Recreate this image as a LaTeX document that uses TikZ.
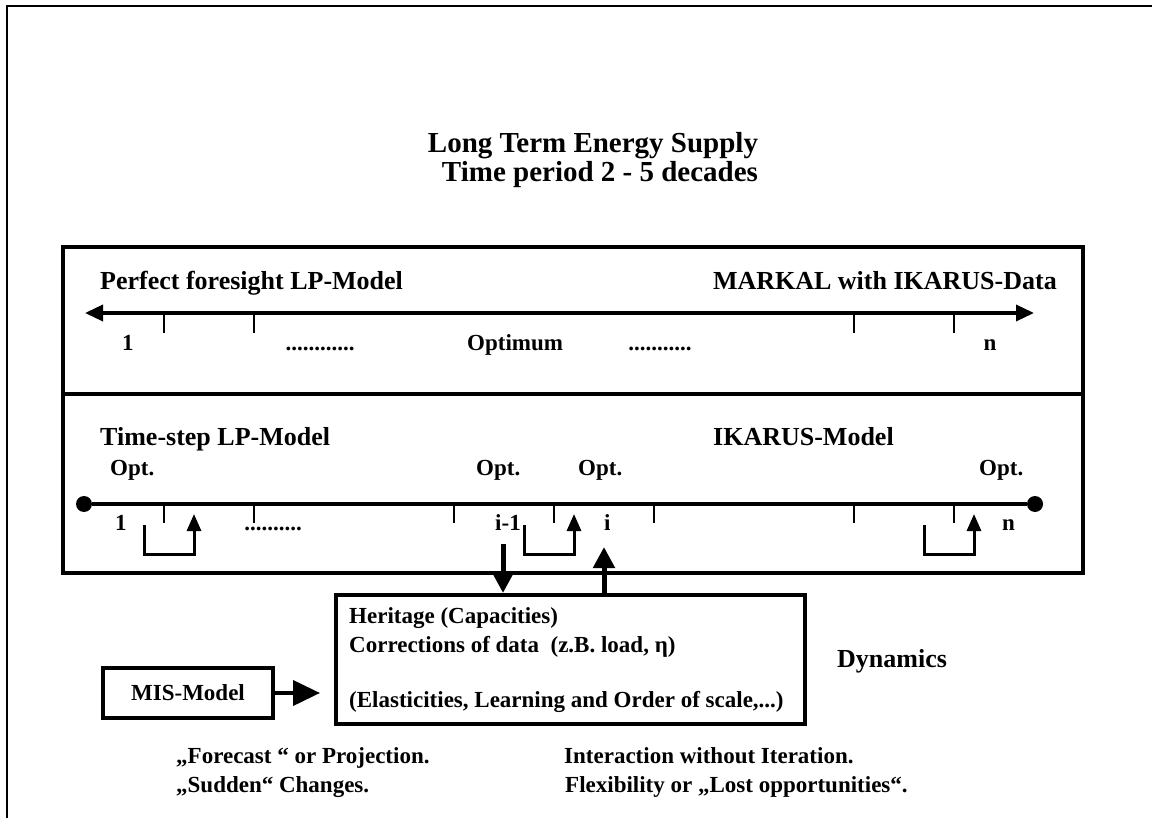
\documentclass[tikz,border=0pt]{standalone}
\usepackage{fontspec}
\setmainfont{Liberation Serif}
\usetikzlibrary{arrows.meta,positioning}

\begin{document}
\begin{tikzpicture}[x=1pt,y=-1pt,>={Triangle[length=18pt,width=16pt]},
  every node/.append style={inner sep=0pt},
  txt/.style={anchor=base west,font=\fontsize{23}{28}\selectfont\bfseries},
  hdr/.style={anchor=base west,font=\fontsize{26}{30}\selectfont\bfseries},
  ttl/.style={anchor=base,font=\fontsize{29}{30}\selectfont\bfseries},
  boxline/.style={line width=4pt},
  tickline/.style={line width=1.2pt},
  backarr/.style={->,line width=3pt,>={Triangle[length=17pt,width=14pt]}},
  bigarr/.style={->,line width=5pt,>={Triangle[length=21pt,width=21pt]}},
  dot/.style={circle,fill,minimum size=16pt}]
    \useasboundingbox (0,0) rectangle (1152,818);
    % page frame
    \draw[line width=2.5pt] (7,818) -- (7,6) -- (1152,6);
    \node [ttl] (title1) at (593,153) {Long Term Energy Supply};
    \node [ttl] (title2) at (600,182) {Time period 2 - 5 decades};
    % the two models
    \draw[boxline] (63,247) rectangle (1083,573);
    \draw[boxline] (63,394) -- (1083,394);
    % perfect foresight
    \node [hdr] (pf) at (100,290) {Perfect foresight LP-Model};
    \node [hdr,anchor=base east] (markal) at (1057,290) {MARKAL with IKARUS-Data};
    \coordinate (a1) at (85,313);
    \coordinate (a2) at (1034,313);
    \draw[<->,line width=3.5pt] (a1) -- (a2);
    \foreach \x in {164,254,854,954}
      \draw[tickline] (\x,313) -- (\x,333);
    \node [txt] (p1) at (122,351) {1};
    \node [txt,anchor=base] (pdots1) at (320,351) {............};
    \node [txt] (opt) at (467,351) {Optimum};
    \node [txt,anchor=base] (pdots2) at (660,351) {...........};
    \node [txt,anchor=base] (pn) at (990,351) {n};
    % time-step
    \node [hdr] (ts) at (100,445) {Time-step LP-Model};
    \node [hdr] (ik) at (713,445) {IKARUS-Model};
    \node [txt] (o1) at (110,475) {Opt.};
    \node [txt] (o2) at (476,475) {Opt.};
    \node [txt] (o3) at (578,475) {Opt.};
    \node [txt] (o4) at (979,475) {Opt.};
    \node [dot] (d1) at (84,504) {};
    \node [dot] (d2) at (1035,504) {};
    \draw[line width=3.5pt] (d1) -- (d2);
    \foreach \x in {164,254,454,554,654,854,954}
      \draw[tickline] (\x,504) -- (\x,523);
    \node [txt] (t1) at (115,530) {1};
    \node [txt,anchor=base] (tdots) at (273,530) {..........};
    \node [txt] (tim) at (495,530) {i-1};
    \node [txt] (ti) at (604,530) {i};
    \node [txt] (tn) at (1002,530) {n};
    \foreach \x/\n in {144/1,524/2,924/3} {
      \coordinate (s\n) at (\x,525);
      \coordinate (e\n) at (\x+50,514);
      \draw[backarr] (s\n) -- ++(0,29) -| (e\n);
    }
    % dynamics
    \node [draw,line width=3.5pt,minimum width=469pt,minimum height=129pt,anchor=north west] (info) at (334,593) {};
    \node [txt] (h1) at (349,623) {Heritage (Capacities)};
    \node [txt] (h2) at (349,652) {Corrections of data \ (z.B. load, η)};
    \node [txt] (h3) at (349,707) {(Elasticities, Learning and Order of scale,...)};
    \coordinate (dn) at (503,544);
    \coordinate (up) at (604,547);
    \draw[bigarr] (dn) -- (dn |- info.north);
    \draw[bigarr] (info.north -| up) -- (up);
    \node [draw,boxline,minimum width=170pt,minimum height=50pt,font=\fontsize{23}{28}\selectfont\bfseries] (mis) at (188,693) {MIS-Model};
    \draw[->,line width=4pt,>={Triangle[length=27pt,width=25pt]},shorten >=14pt] (mis.east) -- (info.west |- mis.east);
    \node [hdr] (dyn) at (837,667) {Dynamics};
    \node [txt] (n1) at (176,763) {„Forecast “ or Projection.};
    \node [txt] (n2) at (176,792) {„Sudden“ Changes.};
    \node [txt] (n3) at (564,763) {Interaction without Iteration.};
    \node [txt] (n4) at (565,792) {Flexibility or „Lost opportunities“.};
\end{tikzpicture}
\end{document}
